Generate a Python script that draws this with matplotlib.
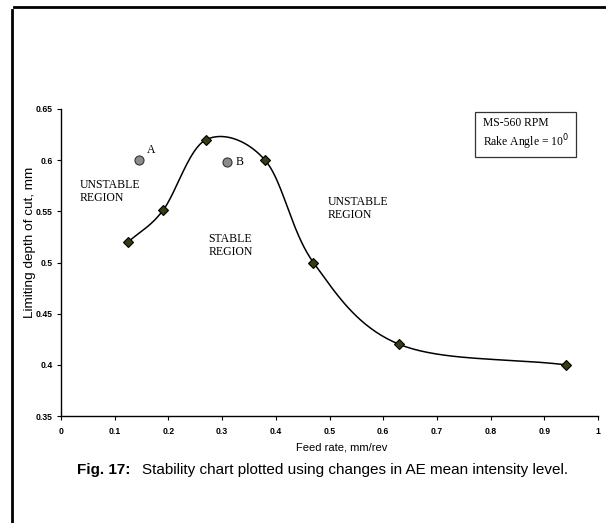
import numpy as np
import matplotlib
matplotlib.use("Agg")
import matplotlib.pyplot as plt
from matplotlib.lines import Line2D
from matplotlib.patches import Rectangle

# Data
feed_rate = [0.125, 0.19, 0.27, 0.38, 0.47, 0.63, 0.94]
depth_of_cut = [0.52, 0.551, 0.62, 0.60, 0.50, 0.42, 0.40]
test_points_x = [0.145, 0.31]
test_points_y = [0.60, 0.598]
test_point_labels = ["A", "B"]
x_ticks = [0, 0.1, 0.2, 0.3, 0.4, 0.5, 0.6, 0.7, 0.8, 0.9, 1]
x_tick_labels = ["0", "0.1", "0.2", "0.3", "0.4", "0.5", "0.6", "0.7", "0.8", "0.9", "1"]
y_ticks = [0.35, 0.4, 0.45, 0.5, 0.55, 0.6, 0.65]
y_tick_labels = ["0.35", "0.4", "0.45", "0.5", "0.55", "0.6", "0.65"]


def smooth_curve(xs, ys, n=40):
    # Catmull-Rom style smoothing through the points (like spreadsheet smoothed lines)
    xs = np.asarray(xs, float)
    ys = np.asarray(ys, float)
    px = np.concatenate([[2 * xs[0] - xs[1]], xs, [2 * xs[-1] - xs[-2]]])
    py = np.concatenate([[2 * ys[0] - ys[1]], ys, [2 * ys[-1] - ys[-2]]])
    outx, outy = [], []
    for i in range(1, len(px) - 2):
        p0, p1, p2, p3 = (np.array([px[j], py[j]]) for j in (i - 1, i, i + 1, i + 2))
        c1 = p1 + (p2 - p0) / 6.0
        c2 = p2 - (p3 - p1) / 6.0
        t = np.linspace(0, 1, n)[:, None]
        b = ((1 - t) ** 3) * p1 + 3 * ((1 - t) ** 2) * t * c1 + 3 * (1 - t) * t ** 2 * c2 + t ** 3 * p2
        outx.extend(b[:, 0])
        outy.extend(b[:, 1])
    return np.array(outx), np.array(outy)


W, H = 606, 523
fig = plt.figure(figsize=(W / 100, H / 100), dpi=100)
ax = fig.add_axes([61 / W, 1 - 416 / H, 537 / W, 307 / H])

sans = ["Liberation Sans", "DejaVu Sans"]
serif = ["Liberation Serif", "DejaVu Serif"]

sx, sy = smooth_curve(feed_rate, depth_of_cut)
ax.plot(sx, sy, color="black", lw=1.1, zorder=2)
ax.plot(feed_rate, depth_of_cut, linestyle="none", marker="D", markersize=5.5,
        markerfacecolor="#3b3b12", markeredgecolor="black", markeredgewidth=0.8, zorder=3)
ax.plot(test_points_x, test_points_y, linestyle="none", marker="o", markersize=6.5,
        markerfacecolor="#8c8c8c", markeredgecolor="#333333", markeredgewidth=0.8, zorder=3)

for x, y, lab in zip(test_points_x, test_points_y, test_point_labels):
    ax.annotate(lab, (x, y), xytext=(6, 3 if lab == "A" else 0), textcoords="offset points",
                fontsize=8.5, family=serif, va="bottom" if lab == "A" else "center", ha="left")

region_kw = dict(fontsize=8.5, family=serif, va="center", ha="left", linespacing=1.1)
ax.text(0.035, 0.569, "UNSTABLE\nREGION", **region_kw)
ax.text(0.274, 0.517, "STABLE\nREGION", **region_kw)
ax.text(0.497, 0.553, "UNSTABLE\nREGION", **region_kw)

# Info box
fig.add_artist(Rectangle((475 / W, 1 - 157 / H), 101 / W, 45 / H, transform=fig.transFigure,
                         facecolor="white", edgecolor="#333333", lw=0.9))
fig.text(483 / W, 1 - 134.5 / H, "MS-560 RPM\nRake Angle = 10$^0$", fontsize=8.4, family=serif,
         va="center", ha="left", linespacing=1.25)

ax.set_xlim(0, 1)
ax.set_ylim(0.35, 0.65)
ax.set_xticks(x_ticks)
ax.set_xticklabels(x_tick_labels)
ax.set_yticks(y_ticks)
ax.set_yticklabels(y_tick_labels)
for sp in ("top", "right"):
    ax.spines[sp].set_visible(False)
for sp in ("left", "bottom"):
    ax.spines[sp].set_linewidth(1.0)
ax.tick_params(axis="both", direction="out", length=3, width=0.8, labelsize=6.2)
ax.tick_params(axis="x", pad=5)
ax.tick_params(axis="y", pad=3)
for lab in ax.get_xticklabels() + ax.get_yticklabels():
    lab.set_fontweight("bold")
    lab.set_family(sans)

ax.set_xlabel("Feed rate, mm/rev", fontsize=8, family=sans)
ax.xaxis.set_label_coords((342 - 61) / 537, (416 - 448) / 307)
ax.xaxis.label.set_va("center")
ax.set_ylabel("Limiting depth of cut, mm", fontsize=9.7, family=sans)
ax.yaxis.set_label_coords((30 - 61) / 537, (416 - 242) / 307)
ax.yaxis.label.set_va("center")

# Caption
fig.text(77 / W, 1 - 470 / H, "Fig. 17:", fontsize=11, fontweight="bold",
         family=sans, ha="left", va="center")
fig.text(142 / W, 1 - 470 / H, "Stability chart plotted using changes in AE mean intensity level.",
         fontsize=11, family=sans, ha="left", va="center")

# Page frame lines
fig.add_artist(Line2D([14 / W, 1.0], [1 - 7 / H, 1 - 7 / H], color="black", lw=2.0,
                      transform=fig.transFigure))
fig.add_artist(Line2D([12 / W, 12 / W], [1 - 10 / H, 0.0], color="black", lw=2.0,
                      transform=fig.transFigure))

fig.savefig("out.png", dpi=100)
